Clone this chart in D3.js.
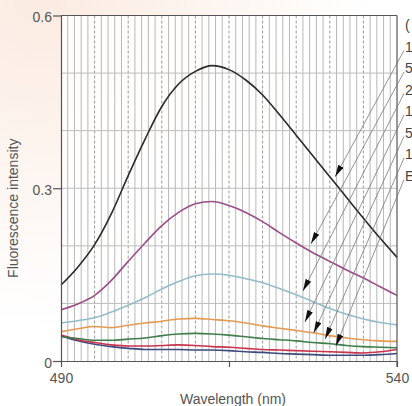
<!DOCTYPE html>
<html>
<head>
<meta charset="utf-8">
<script src="https://cdn.jsdelivr.net/npm/d3@7"></script>
<style>
    html, body { margin: 0; padding: 0; background: #fff; }
    svg { display: block; font-family: "Liberation Sans", Arial, sans-serif; }
</style>
</head>
<body>
<div class="canvas"></div>
<script>
// wavelengths (nm)
const wavelengths = [490, 492.5, 495, 497.5, 500, 502.5, 505, 507.5, 510, 512.5, 515,
    517.5, 520, 522.5, 525, 527.5, 530, 532.5, 535, 537.5, 540];

// series values, fluorescence intensity
const blackVals = [0.132, 0.163, 0.202, 0.256, 0.322, 0.385, 0.442, 0.481, 0.503, 0.513, 0.506,
    0.488, 0.462, 0.428, 0.392, 0.356, 0.32, 0.284, 0.248, 0.213, 0.18];
const purpleVals = [0.089, 0.099, 0.114, 0.14, 0.173, 0.205, 0.235, 0.258, 0.273, 0.277, 0.27,
    0.258, 0.242, 0.223, 0.205, 0.188, 0.173, 0.158, 0.144, 0.129, 0.114];
const blueVals = [0.066, 0.07, 0.075, 0.085, 0.097, 0.11, 0.125, 0.138, 0.148, 0.151, 0.149,
    0.143, 0.136, 0.126, 0.115, 0.103, 0.091, 0.081, 0.073, 0.067, 0.063];
const orangeVals = [0.051, 0.056, 0.06, 0.058, 0.062, 0.066, 0.069, 0.073, 0.074, 0.072, 0.07,
    0.066, 0.061, 0.057, 0.053, 0.049, 0.044, 0.04, 0.037, 0.035, 0.034];
const greenVals = [0.042, 0.039, 0.036, 0.036, 0.038, 0.04, 0.044, 0.047, 0.048, 0.047, 0.045,
    0.042, 0.039, 0.037, 0.035, 0.032, 0.03, 0.027, 0.025, 0.024, 0.023];
const redVals = [0.045, 0.037, 0.032, 0.028, 0.026, 0.026, 0.027, 0.028, 0.027, 0.025, 0.024,
    0.022, 0.02, 0.019, 0.018, 0.017, 0.016, 0.015, 0.014, 0.016, 0.02];
const navyVals = [0.044, 0.035, 0.029, 0.025, 0.022, 0.02, 0.02, 0.02, 0.019, 0.019, 0.018,
    0.016, 0.015, 0.013, 0.012, 0.011, 0.01, 0.01, 0.01, 0.011, 0.013];

const seriesColors = ["#2a2a2a", "#9b4d88", "#93bcc8", "#e39a52", "#3f7d4c", "#c8344e", "#3c4a7c"];

// labels on the right edge (cut off in the original)
const labels = ["(", "1", "5", "2", "1", "5", "1", "E"];

// where each arrow points (wavelength, intensity), one per series
const arrowWl = [530.8, 527.2, 526.0, 526.3, 527.6, 529.3, 530.9];
const arrowVal = [0.32, 0.2035, 0.1217, 0.0678, 0.0487, 0.0383, 0.0261];

const yTicks = [0, 0.3, 0.6];
const xTicks = [490, 515, 540];
const xTickLabels = ["490", "", "540"];

const dims = { width: 412, height: 406 };
const plot = { left: 61, right: 397, top: 15.5, bottom: 361 };

const svg = d3
    .select(".canvas")
    .append("svg")
    .attr("width", dims.width)
    .attr("height", dims.height);

// faint peach tint of the scanned page
const defs = svg.append("defs");
const grad = defs
    .append("radialGradient")
    .attr("id", "paper")
    .attr("cx", 0.1)
    .attr("cy", 0)
    .attr("r", 0.8);
grad.append("stop").attr("offset", "0%").attr("stop-color", "#fbebe1");
grad.append("stop").attr("offset", "100%").attr("stop-color", "#ffffff");

defs.append("marker")
    .attr("id", "head")
    .attr("viewBox", "0 0 12 6")
    .attr("refX", 12)
    .attr("refY", 3)
    .attr("markerWidth", 12)
    .attr("markerHeight", 6)
    .attr("markerUnits", "userSpaceOnUse")
    .attr("orient", "auto")
    .append("path")
    .attr("d", "M0,0 L12,3 L0,6 Z")
    .attr("fill", "#111");

svg.append("rect")
    .attr("width", dims.width)
    .attr("height", dims.height)
    .attr("fill", "url(#paper)");

svg.append("rect")
    .attr("x", plot.left)
    .attr("y", plot.top)
    .attr("width", plot.right - plot.left)
    .attr("height", plot.bottom - plot.top)
    .attr("fill", "#fff")
    .attr("opacity", 0.85);

const x = d3.scaleLinear().domain([490, 540]).range([plot.left, plot.right]);
const y = d3.scaleLinear().domain([0, 0.6]).range([plot.bottom, plot.top]);

// chart-paper grid
const grid = svg.append("g");
grid.selectAll("line.v")
    .data(d3.range(491, 540))
    .enter()
    .append("line")
    .attr("class", "v")
    .attr("x1", (d) => x(d))
    .attr("x2", (d) => x(d))
    .attr("y1", plot.top)
    .attr("y2", plot.bottom)
    .attr("stroke", (d) => (d % 5 === 0 ? "#9a9a9a" : "#b8b8b8"))
    .attr("stroke-dasharray", (d) => (d % 5 === 0 ? "3,2" : null))
    .attr("stroke-width", 1);

grid.selectAll("line.h")
    .data([0.1, 0.2, 0.3, 0.4, 0.5])
    .enter()
    .append("line")
    .attr("class", "h")
    .attr("x1", plot.left)
    .attr("x2", plot.right)
    .attr("y1", (d) => y(d))
    .attr("y2", (d) => y(d))
    .attr("stroke", "#bdbdbd")
    .attr("stroke-width", 1);

// series
const allSeries = [blackVals, purpleVals, blueVals, orangeVals, greenVals, redVals, navyVals];
const line = d3
    .line()
    .x((d, i) => x(wavelengths[i]))
    .y((d) => y(d))
    .curve(d3.curveMonotoneX);

svg.append("g")
    .selectAll("path")
    .data(allSeries.slice().reverse())
    .enter()
    .append("path")
    .attr("d", line)
    .attr("fill", "none")
    .attr("stroke", (d, i) => seriesColors[allSeries.length - 1 - i])
    .attr("stroke-width", 1.6);

// axes
const axisColor = "#555";
const yAxis = d3
    .axisLeft(y)
    .tickValues(yTicks)
    .tickFormat(d3.format(""))
    .tickSize(8)
    .tickSizeOuter(0)
    .tickPadding(1);
const xAxis = d3
    .axisBottom(x)
    .tickValues(xTicks)
    .tickFormat((d, i) => xTickLabels[i])
    .tickSize(6)
    .tickSizeOuter(0)
    .tickPadding(6);

const gy = svg.append("g").attr("transform", `translate(${plot.left},0)`).call(yAxis);
const gx = svg.append("g").attr("transform", `translate(0,${plot.bottom})`).call(xAxis);

[gx, gy].forEach((g) => {
    g.selectAll("path, line").attr("stroke", axisColor).attr("stroke-width", 1.2);
    g.selectAll("text")
        .attr("fill", "#555")
        .style("font-size", "14px")
        .style("font-family", "Liberation Sans, Arial, sans-serif");
});
gy.selectAll("text").attr("dy", "0.45em");

// top and right frame
svg.append("line")
    .attr("x1", plot.left)
    .attr("x2", plot.right)
    .attr("y1", plot.top)
    .attr("y2", plot.top)
    .attr("stroke", axisColor)
    .attr("stroke-width", 1.2);
svg.append("line")
    .attr("x1", plot.right)
    .attr("x2", plot.right)
    .attr("y1", plot.top)
    .attr("y2", plot.bottom + 6)
    .attr("stroke", axisColor)
    .attr("stroke-width", 1.2);

// axis titles
svg.append("text")
    .attr("transform", `translate(18,${(plot.top + plot.bottom) / 2 + 20}) rotate(-90)`)
    .attr("text-anchor", "middle")
    .attr("fill", "#555")
    .style("font-size", "14px")
    .text("Fluorescence intensity");

svg.append("text")
    .attr("x", 233)
    .attr("y", 403.5)
    .attr("text-anchor", "middle")
    .attr("fill", "#555")
    .style("font-size", "14px")
    .text("Wavelength (nm)");

// right-hand labels and leader arrows
const labelY = (i) => 25 + i * 21.5;

svg.append("g")
    .selectAll("text")
    .data(labels)
    .enter()
    .append("text")
    .attr("x", 405)
    .attr("y", (d, i) => labelY(i) + 5)
    .attr("fill", "#444")
    .style("font-size", "14px")
    .text((d) => d);

svg.append("g")
    .selectAll("line")
    .data(arrowWl)
    .enter()
    .append("line")
    .attr("x1", 404)
    .attr("y1", (d, i) => labelY(i + 1) + 4)
    .attr("x2", (d) => x(d))
    .attr("y2", (d, i) => y(arrowVal[i]))
    .attr("stroke", "#777")
    .attr("stroke-width", 0.8)
    .attr("marker-end", "url(#head)");
</script>
</body>
</html>
